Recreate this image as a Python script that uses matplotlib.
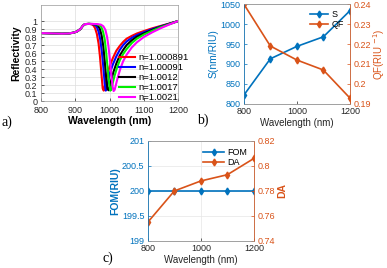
import numpy as np
import matplotlib.pyplot as plt

plt.rcParams['font.family'] = ['Liberation Sans', 'DejaVu Sans']

BLUE = '#0072BD'
ORANGE = '#D95319'
GRAY = '#262626'

# ---- panel a: reflectivity curves ----
# shared part of the curves before the resonance dip
base_wl = [800, 820, 840, 860, 880, 895, 905, 915, 922, 928, 940]
base_r = [0.850, 0.848, 0.845, 0.842, 0.845, 0.855, 0.870, 0.900, 0.940, 0.962, 0.965]

red_wl = [948, 953, 958, 963, 968, 972, 976, 980, 983, 987, 993, 1000, 1010, 1020, 1030,
          1040, 1050, 1065, 1080, 1100, 1125, 1150, 1175, 1200]
red_r = [0.960, 0.945, 0.910, 0.840, 0.720, 0.560, 0.360, 0.160, 0.130, 0.200, 0.320, 0.430,
         0.540, 0.630, 0.690, 0.740, 0.780, 0.815, 0.845, 0.875, 0.910, 0.940, 0.970, 1.000]

blue_wl = [950, 958, 963, 968, 973, 978, 982, 986, 989, 992, 996, 1002, 1010, 1020, 1030,
           1040, 1050, 1065, 1080, 1100, 1125, 1150, 1175, 1200]
blue_r = [0.962, 0.950, 0.925, 0.870, 0.770, 0.600, 0.420, 0.220, 0.130, 0.160, 0.250, 0.360,
          0.460, 0.560, 0.640, 0.700, 0.745, 0.790, 0.825, 0.860, 0.900, 0.935, 0.968, 1.000]

black_wl = [950, 960, 967, 972, 977, 982, 986, 990, 994, 997, 1000, 1005, 1012, 1020, 1030,
            1040, 1050, 1065, 1080, 1100, 1125, 1150, 1175, 1200]
black_r = [0.963, 0.958, 0.940, 0.900, 0.820, 0.680, 0.500, 0.300, 0.150, 0.135, 0.170, 0.260,
           0.370, 0.470, 0.570, 0.640, 0.700, 0.760, 0.805, 0.845, 0.890, 0.930, 0.965, 1.000]

green_wl = [950, 962, 970, 976, 981, 986, 990, 994, 998, 1002, 1005, 1009, 1015, 1022, 1030,
            1040, 1050, 1065, 1080, 1100, 1125, 1150, 1175, 1200]
green_r = [0.964, 0.960, 0.950, 0.925, 0.870, 0.770, 0.620, 0.430, 0.250, 0.130, 0.140, 0.220,
           0.320, 0.420, 0.510, 0.590, 0.650, 0.725, 0.780, 0.830, 0.880, 0.925, 0.962, 1.000]

magenta_wl = [950, 965, 975, 982, 988, 993, 997, 1001, 1005, 1009, 1012, 1015, 1019, 1025, 1032,
              1040, 1050, 1065, 1080, 1100, 1125, 1150, 1175, 1200]
magenta_r = [0.965, 0.962, 0.955, 0.935, 0.890, 0.800, 0.680, 0.520, 0.340, 0.180, 0.125, 0.140,
             0.210, 0.310, 0.410, 0.500, 0.580, 0.670, 0.735, 0.800, 0.860, 0.912, 0.958, 1.000]

n_labels = ['n=1.000891', 'n=1.00091', 'n=1.0012', 'n=1.0017', 'n=1.0021']
curve_colors = ['red', 'blue', 'black', '#00ee00', 'magenta']

# ---- panel b / c: sensor parameters ----
wavelengths = [800, 900, 1000, 1100, 1200]
sensitivity = [822, 913, 944, 968, 1033]
qf = [0.240, 0.219, 0.212, 0.207, 0.193]
fom = [200, 200, 200, 200, 200]
da = [0.755, 0.780, 0.788, 0.793, 0.806]


def style_axes(ax):
    ax.tick_params(direction='in', length=2, width=0.5, labelsize=6.5, colors=GRAY, pad=2.5)
    for s in ax.spines.values():
        s.set_color('#999999')
        s.set_linewidth(0.5)


fig = plt.figure(figsize=(3.87, 2.68), dpi=100)

# panel a
ax_a = fig.add_axes([0.106, 0.623, 0.354, 0.358])
curves = [(red_wl, red_r), (blue_wl, blue_r), (black_wl, black_r),
          (green_wl, green_r), (magenta_wl, magenta_r)]
for (wl, r), col, lab in zip(curves, curve_colors, n_labels):
    ax_a.plot(base_wl + wl, base_r + r, color=col, lw=1.5, label=lab)
ax_a.set_xlim(800, 1200)
ax_a.set_ylim(0, 1.2)
ax_a.set_xticks([800, 900, 1000, 1100, 1200])
ax_a.set_yticks(np.arange(0, 1.01, 0.1))
ax_a.set_yticklabels(['0', '0.1', '0.2', '0.3', '0.4', '0.5', '0.6', '0.7', '0.8', '0.9', '1'])
style_axes(ax_a)
ax_a.tick_params(axis='x', pad=3.5)
ax_a.grid(color='#dddddd', lw=0.5)
ax_a.set_xlabel('Wavelength (nm)', fontsize=7.5, fontweight='bold', labelpad=0.5)
ax_a.set_ylabel('Reflectivity', fontsize=7.5, fontweight='bold', labelpad=3)
ax_a.legend(loc='lower left', bbox_to_anchor=(0.54, -0.05), frameon=False, fontsize=6.8,
            handlelength=1.7, handletextpad=0.4, labelspacing=0.1, borderaxespad=0)
fig.text(0.003, 0.545, 'a)', fontsize=10, family='Liberation Serif', va='center')

# panel b
ax_b = fig.add_axes([0.630, 0.612, 0.274, 0.373])
ax_b2 = ax_b.twinx()
l1, = ax_b.plot(wavelengths, sensitivity, color=BLUE, marker='d', ms=3.5, lw=1.2, label='S')
l2, = ax_b2.plot(wavelengths, qf, color=ORANGE, marker='d', ms=3.5, lw=1.2, label='QF')
ax_b.set_xlim(800, 1200)
ax_b.set_ylim(800, 1050)
ax_b2.set_ylim(0.19, 0.24)
ax_b.set_xticks([800, 1000, 1200])
ax_b2.set_yticks([0.19, 0.2, 0.21, 0.22, 0.23, 0.24])
ax_b2.set_yticklabels(['0.19', '0.2', '0.21', '0.22', '0.23', '0.24'])
for ax in (ax_b, ax_b2):
    style_axes(ax)
ax_b.tick_params(axis='y', colors=BLUE)
ax_b2.tick_params(axis='y', colors=ORANGE)
ax_b.tick_params(axis='x', colors=GRAY)
ax_b2.spines['left'].set_color(BLUE)
ax_b2.spines['right'].set_color(ORANGE)
ax_b.set_xlabel('Wavelength (nm)', fontsize=7, labelpad=1, color=GRAY)
ax_b.set_ylabel('S(nm/RIU)', fontsize=7.5, color=BLUE, labelpad=1)
ax_b2.set_ylabel('QF(RIU $^{-1}$)', fontsize=7, color=ORANGE, labelpad=0.5)
ax_b2.legend([l1, l2], ['S', 'QF'], loc='upper right', frameon=False, fontsize=6.5,
             handlelength=2, handletextpad=0.3, labelspacing=0.1, borderaxespad=0.3)
fig.text(0.508, 0.552, 'b)', fontsize=10, family='Liberation Serif', va='center')

# panel c
ax_c = fig.add_axes([0.382, 0.101, 0.274, 0.373])
ax_c2 = ax_c.twinx()
l3, = ax_c.plot(wavelengths, fom, color=BLUE, marker='d', ms=3.5, lw=1.2, label='FOM')
l4, = ax_c2.plot(wavelengths, da, color=ORANGE, marker='d', ms=3.5, lw=1.2, label='DA')
ax_c.set_xlim(800, 1200)
ax_c.set_ylim(199, 201)
ax_c2.set_ylim(0.74, 0.82)
ax_c.set_xticks([800, 1000, 1200])
ax_c.set_yticks([199, 199.5, 200, 200.5, 201])
ax_c.set_yticklabels(['199', '199.5', '200', '200.5', '201'])
ax_c2.set_yticks([0.74, 0.76, 0.78, 0.8, 0.82])
ax_c2.set_yticklabels(['0.74', '0.76', '0.78', '0.8', '0.82'])
for ax in (ax_c, ax_c2):
    style_axes(ax)
ax_c.grid(color='#e6e6e6', lw=0.5)
ax_c.tick_params(axis='y', colors=BLUE)
ax_c2.tick_params(axis='y', colors=ORANGE)
ax_c.tick_params(axis='x', colors=GRAY)
ax_c2.spines['left'].set_color(BLUE)
ax_c2.spines['right'].set_color(ORANGE)
ax_c.set_xlabel('Wavelength (nm)', fontsize=7, labelpad=1, color=GRAY)
ax_c.set_ylabel('FOM(RIU)', fontsize=7.5, color=BLUE, fontweight='bold', labelpad=1)
ax_c2.set_ylabel('DA', fontsize=7.5, color=ORANGE, fontweight='bold', labelpad=2)
ax_c2.legend([l3, l4], ['FOM', 'DA'], loc='upper right', frameon=False, fontsize=6.5,
             handlelength=2.3, handletextpad=0.3, labelspacing=0.1, borderaxespad=0.4)
fig.text(0.265, 0.037, 'c)', fontsize=10, family='Liberation Serif', va='center')

fig.savefig('out.png', dpi=100)
